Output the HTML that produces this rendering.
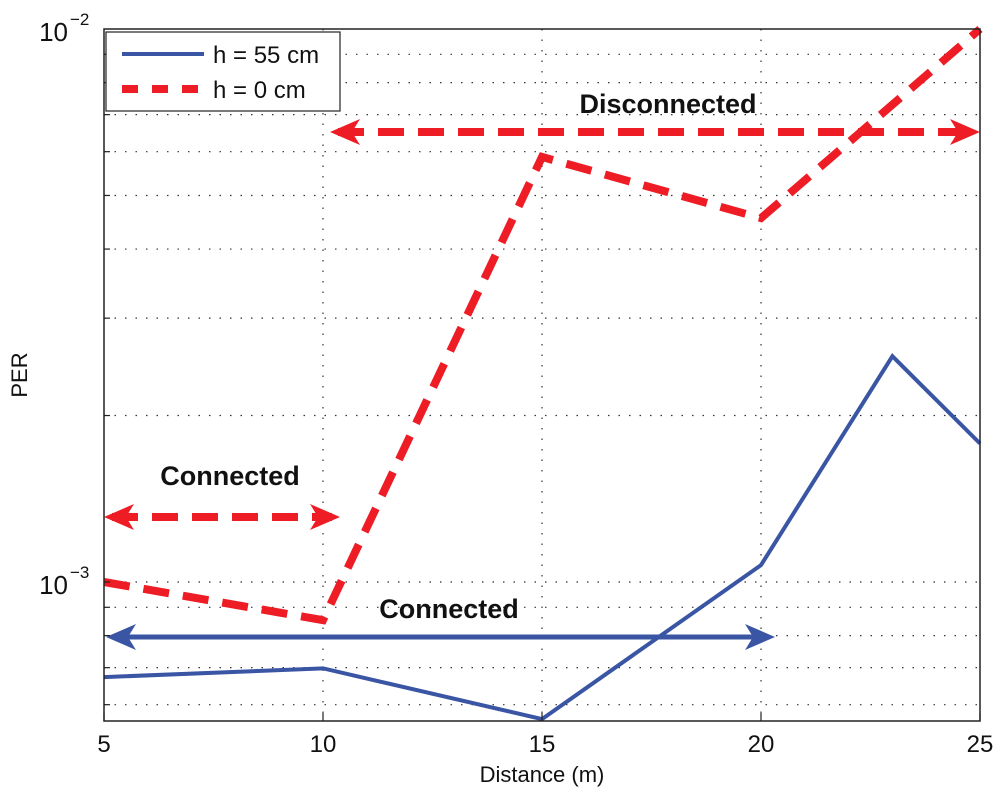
<!DOCTYPE html>
<html><head><meta charset="utf-8"><style>
body{margin:0;background:#fff;}
text{font-family:"Liberation Sans",Arial,sans-serif;}
</style></head><body>
<svg id="chart" width="1000" height="802" viewBox="0 0 1000 802" xmlns="http://www.w3.org/2000/svg">
<g id="grid"></g>
<g id="series"></g>
<g id="annot"></g>
<rect x="104" y="29" width="876" height="692" fill="none" stroke="#222" stroke-width="1.5"/>
<g id="ticks"></g>
<text x="542" y="782" font-size="22" text-anchor="middle" fill="#111">Distance (m)</text>
<text transform="translate(27,375) rotate(-90)" font-size="22" text-anchor="middle" fill="#111">PER</text>
<g>
<rect x="106" y="32" width="234" height="79" fill="#fff" stroke="#222" stroke-width="1.2"/>
<line x1="122" y1="54" x2="204" y2="54" stroke="#3a55a4" stroke-width="4"/>
<text x="213" y="63" font-size="24" fill="#111">h = 55 cm</text>
<line x1="122" y1="89" x2="204" y2="89" stroke="#ee1c25" stroke-width="8" stroke-dasharray="16,14"/>
<text x="213" y="98" font-size="24" fill="#111">h = 0 cm</text>
</g>
</svg>
<script>
const distances=[5,10,15,20,23,25];
const per55=[6.73e-4,6.98e-4,5.65e-4,1.073e-3,2.56e-3,1.78e-3];
const distances0=[5,10,15,20,25];
const per0=[1.0e-3,8.53e-4,5.87e-3,4.55e-3,1.0e-2];
const xTicks=[5,10,15,20,25];
const yMajor=[-3,-2];
const NS='http://www.w3.org/2000/svg';
const L=104,R=980,T=29,B=721;
const X=v=>L+(v-5)/20*(R-L);
const Y=v=>582-(Math.log10(v)+3)*553;
function mk(tag,attrs,parent){const e=document.createElementNS(NS,tag);for(const k in attrs)e.setAttribute(k,attrs[k]);parent.appendChild(e);return e;}
const grid=document.getElementById('grid'),ticks=document.getElementById('ticks'),series=document.getElementById('series'),annot=document.getElementById('annot');
const yVals=[];
for(const m of [6,7,8,9])yVals.push(m*1e-4);
for(const m of [1,2,3,4,5,6,7,8,9])yVals.push(m*1e-3);
yVals.forEach(v=>{const y=Y(v);if(y<T||y>B)return;
const g=mk('line',{x1:L,x2:R,y1:y,y2:y,stroke:'#333','stroke-width':1.2,'stroke-dasharray':'1.5,9'},grid);

const t=mk('line',{x1:L,x2:L+6,y1:y,y2:y,stroke:'#222','stroke-width':1.2},ticks);
});
xTicks.forEach(v=>{const x=X(v);
if(v>5&&v<25){const g=mk('line',{x1:x,x2:x,y1:T,y2:B,stroke:'#333','stroke-width':1.2,'stroke-dasharray':'1.5,9'},grid);
}
const t=mk('line',{x1:x,x2:x,y1:B,y2:B-8,stroke:'#222','stroke-width':1.2},ticks);

const l=mk('text',{x:x,y:752,'font-size':24,'text-anchor':'middle',fill:'#111'},ticks);l.textContent=v;
});
yMajor.forEach(p=>{const y=Y(Math.pow(10,p));
const l=mk('text',{x:68,y:y+12,'font-size':26,'text-anchor':'end',fill:'#111'},ticks);l.textContent='10';

const s=mk('text',{x:70,y:y-4,'font-size':17,fill:'#111'},ticks);s.textContent='\u2212'+String(-p);
});
const p0=mk('polyline',{points:distances0.map((d,i)=>X(d)+','+Y(per0[i])).join(' '),fill:'none',stroke:'#ee1c25','stroke-width':8,'stroke-dasharray':'26,14'},series);

const p55=mk('polyline',{points:distances.map((d,i)=>X(d)+','+Y(per55[i])).join(' '),fill:'none',stroke:'#3a55a4','stroke-width':4},series);

function arrow(x1,x2,y,color,dashed,name){
const g=mk('g',{},annot);
mk('line',{x1:x1+8,x2:x2-8,y1:y,y2:y,stroke:color,'stroke-width':dashed?8:5,'stroke-dasharray':dashed?'26,14':'none'},g);
mk('polygon',{points:`${x1},${y} ${x1+30},${y-13} ${x1+22},${y} ${x1+30},${y+13}`,fill:color},g);
mk('polygon',{points:`${x2},${y} ${x2-30},${y-13} ${x2-22},${y} ${x2-30},${y+13}`,fill:color},g);}
arrow(104,340,517,'#ee1c25',true,'connected-arrow-0cm');
arrow(330,980,132,'#ee1c25',true,'disconnected-arrow-0cm');
arrow(106,775,637,'#3a55a4',false,'connected-arrow-55cm');
[['Connected',230,485,'connected-label-0cm'],['Disconnected',668,113,'disconnected-label'],['Connected',449,618,'connected-label-55cm']].forEach(a=>{
const t=mk('text',{x:a[1],y:a[2],'font-size':27,'font-weight':'bold','text-anchor':'middle',fill:'#111'},annot);t.textContent=a[0];
});
</script>
</body></html>
